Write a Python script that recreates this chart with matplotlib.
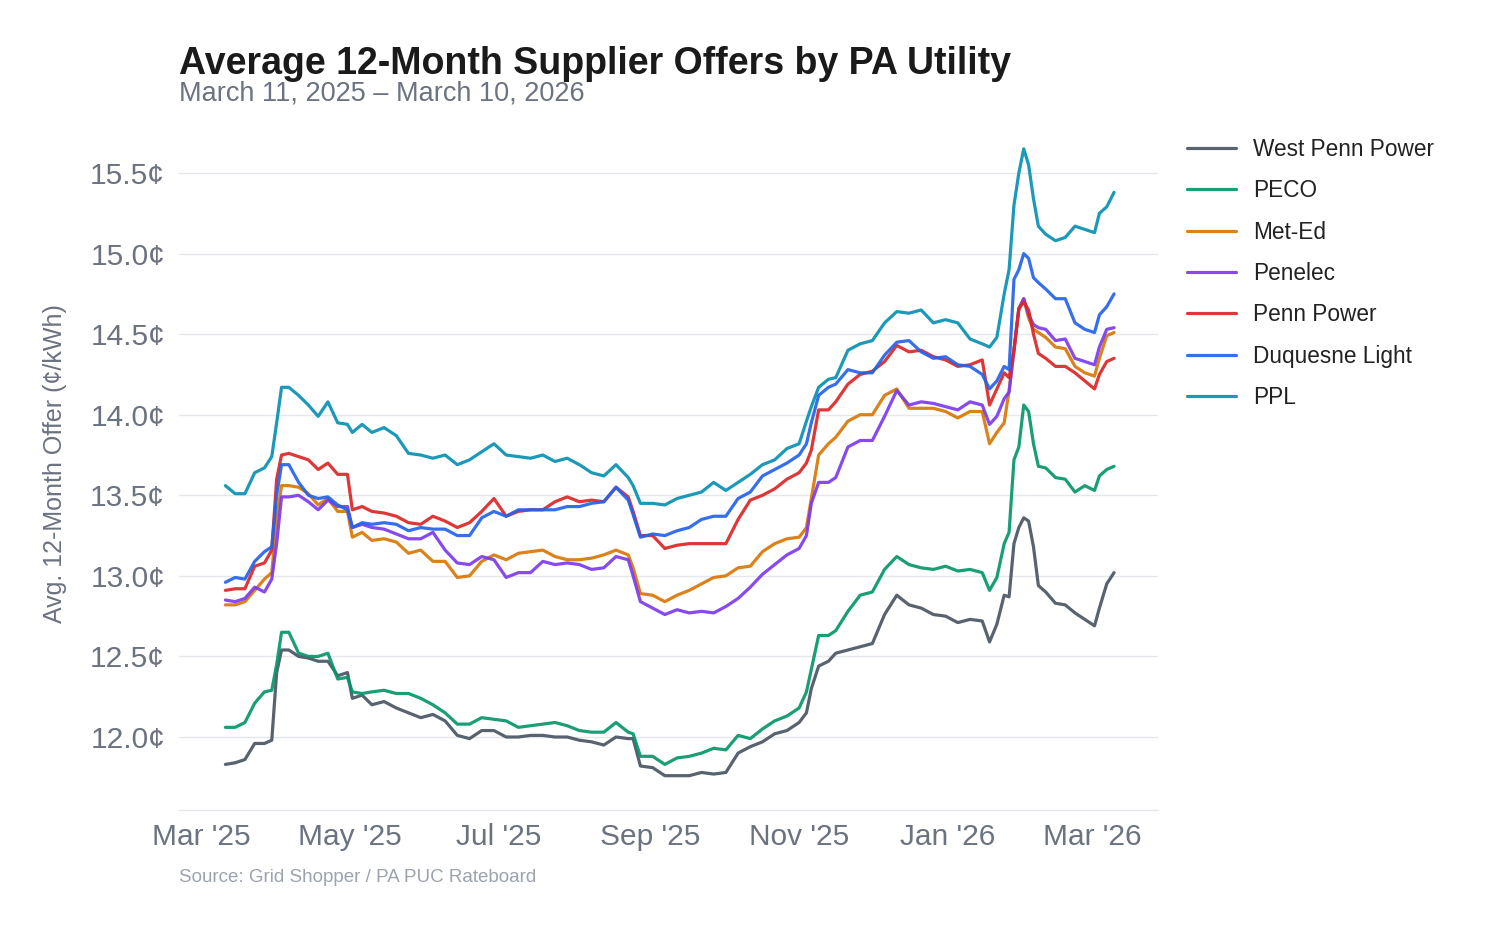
import numpy as np
import pandas as pd
import matplotlib
matplotlib.use("Agg")
import matplotlib.pyplot as plt
import matplotlib.dates as mdates
from matplotlib.ticker import FuncFormatter, MultipleLocator

plt.rcParams['font.family'] = ['Liberation Sans', 'DejaVu Sans']

# ---- data ----
start_date = "2025-03-11"
day_offsets = [0, 4, 8, 12, 16, 19, 21, 23, 26, 30, 34, 38, 42, 46, 50, 52, 56, 60, 65, 70,
               75, 80, 85, 90, 95, 100, 105, 110, 115, 120, 125, 130, 135, 140, 145, 150, 155, 160, 165, 167,
               170, 175, 180, 185, 190, 195, 200, 205, 210, 215, 220, 225, 230, 235, 238, 240, 243, 247, 250, 255,
               260, 265, 270, 275, 280, 285, 290, 295, 300, 305, 310, 313, 316, 319, 321, 323, 325, 327, 329, 331,
               333, 336, 340, 344, 348, 352, 356, 358, 361, 364]

west_penn_power = [11.83, 11.84, 11.86, 11.96, 11.96, 11.98, 12.40, 12.54, 12.54, 12.50, 12.49, 12.47, 12.47, 12.38, 12.40, 12.24, 12.26, 12.20, 12.22, 12.18,
                   12.15, 12.12, 12.14, 12.10, 12.01, 11.99, 12.04, 12.04, 12.00, 12.00, 12.01, 12.01, 12.00, 12.00, 11.98, 11.97, 11.95, 12.00, 11.99, 11.99,
                   11.82, 11.81, 11.76, 11.76, 11.76, 11.78, 11.77, 11.78, 11.90, 11.94, 11.97, 12.02, 12.04, 12.09, 12.15, 12.30, 12.44, 12.47, 12.52, 12.54,
                   12.56, 12.58, 12.76, 12.88, 12.82, 12.80, 12.76, 12.75, 12.71, 12.73, 12.72, 12.59, 12.70, 12.88, 12.87, 13.20, 13.30, 13.36, 13.34, 13.18,
                   12.94, 12.90, 12.83, 12.82, 12.77, 12.73, 12.69, 12.80, 12.95, 13.02]

peco = [12.06, 12.06, 12.09, 12.21, 12.28, 12.29, 12.45, 12.65, 12.65, 12.52, 12.50, 12.50, 12.52, 12.36, 12.37, 12.28, 12.27, 12.28, 12.29, 12.27,
        12.27, 12.24, 12.20, 12.15, 12.08, 12.08, 12.12, 12.11, 12.10, 12.06, 12.07, 12.08, 12.09, 12.07, 12.04, 12.03, 12.03, 12.09, 12.03, 12.02,
        11.88, 11.88, 11.83, 11.87, 11.88, 11.90, 11.93, 11.92, 12.01, 11.99, 12.05, 12.10, 12.13, 12.18, 12.28, 12.42, 12.63, 12.63, 12.66, 12.78,
        12.88, 12.90, 13.04, 13.12, 13.07, 13.05, 13.04, 13.06, 13.03, 13.04, 13.02, 12.91, 12.99, 13.20, 13.27, 13.72, 13.80, 14.06, 14.02, 13.82,
        13.68, 13.67, 13.61, 13.60, 13.52, 13.56, 13.53, 13.62, 13.66, 13.68]

met_ed = [12.82, 12.82, 12.84, 12.91, 12.98, 13.02, 13.35, 13.56, 13.56, 13.55, 13.51, 13.44, 13.48, 13.40, 13.40, 13.24, 13.27, 13.22, 13.23, 13.21,
          13.14, 13.16, 13.09, 13.09, 12.99, 13.00, 13.09, 13.13, 13.10, 13.14, 13.15, 13.16, 13.12, 13.10, 13.10, 13.11, 13.13, 13.16, 13.13, 13.05,
          12.89, 12.88, 12.84, 12.88, 12.91, 12.95, 12.99, 13.00, 13.05, 13.06, 13.15, 13.20, 13.23, 13.24, 13.30, 13.48, 13.75, 13.82, 13.86, 13.96,
          14.00, 14.00, 14.12, 14.16, 14.04, 14.04, 14.04, 14.02, 13.98, 14.02, 14.02, 13.82, 13.89, 13.95, 14.15, 14.40, 14.65, 14.72, 14.60, 14.53,
          14.51, 14.48, 14.42, 14.41, 14.30, 14.26, 14.24, 14.35, 14.49, 14.51]

penelec = [12.85, 12.84, 12.86, 12.93, 12.90, 12.98, 13.20, 13.49, 13.49, 13.50, 13.46, 13.41, 13.47, 13.43, 13.43, 13.30, 13.32, 13.30, 13.29, 13.26,
           13.23, 13.23, 13.27, 13.16, 13.08, 13.07, 13.12, 13.10, 12.99, 13.02, 13.02, 13.09, 13.07, 13.08, 13.07, 13.04, 13.05, 13.12, 13.10, 13.00,
           12.84, 12.80, 12.76, 12.79, 12.77, 12.78, 12.77, 12.81, 12.86, 12.93, 13.01, 13.07, 13.13, 13.17, 13.25, 13.45, 13.58, 13.58, 13.61, 13.80,
           13.84, 13.84, 13.99, 14.15, 14.06, 14.08, 14.07, 14.05, 14.03, 14.08, 14.06, 13.94, 13.99, 14.10, 14.14, 14.40, 14.66, 14.72, 14.62, 14.56,
           14.54, 14.53, 14.46, 14.47, 14.35, 14.33, 14.31, 14.42, 14.53, 14.54]

penn_power = [12.91, 12.92, 12.92, 13.06, 13.08, 13.16, 13.60, 13.75, 13.76, 13.74, 13.72, 13.66, 13.70, 13.63, 13.63, 13.41, 13.43, 13.40, 13.39, 13.37,
              13.33, 13.32, 13.37, 13.34, 13.30, 13.33, 13.40, 13.48, 13.37, 13.40, 13.41, 13.41, 13.46, 13.49, 13.46, 13.47, 13.46, 13.55, 13.49, 13.40,
              13.25, 13.25, 13.17, 13.19, 13.20, 13.20, 13.20, 13.20, 13.35, 13.47, 13.50, 13.54, 13.60, 13.64, 13.70, 13.78, 14.03, 14.03, 14.08, 14.19,
              14.25, 14.27, 14.33, 14.43, 14.39, 14.40, 14.36, 14.34, 14.30, 14.31, 14.34, 14.06, 14.16, 14.26, 14.23, 14.40, 14.66, 14.70, 14.65, 14.50,
              14.38, 14.35, 14.30, 14.30, 14.26, 14.21, 14.16, 14.25, 14.33, 14.35]

duquesne_light = [12.96, 12.99, 12.98, 13.09, 13.15, 13.18, 13.50, 13.69, 13.69, 13.58, 13.50, 13.48, 13.49, 13.44, 13.41, 13.30, 13.33, 13.32, 13.33, 13.32,
                  13.28, 13.30, 13.29, 13.29, 13.25, 13.25, 13.36, 13.40, 13.37, 13.41, 13.41, 13.41, 13.41, 13.43, 13.43, 13.45, 13.46, 13.55, 13.47, 13.38,
                  13.24, 13.26, 13.25, 13.28, 13.30, 13.35, 13.37, 13.37, 13.48, 13.52, 13.62, 13.66, 13.70, 13.75, 13.82, 13.95, 14.12, 14.17, 14.19, 14.28,
                  14.26, 14.26, 14.37, 14.45, 14.46, 14.39, 14.35, 14.36, 14.31, 14.30, 14.25, 14.16, 14.21, 14.30, 14.28, 14.84, 14.90, 15.00, 14.97, 14.85,
                  14.82, 14.78, 14.72, 14.72, 14.57, 14.53, 14.51, 14.62, 14.67, 14.75]

ppl = [13.56, 13.51, 13.51, 13.64, 13.67, 13.74, 13.95, 14.17, 14.17, 14.12, 14.06, 13.99, 14.08, 13.95, 13.94, 13.89, 13.94, 13.89, 13.92, 13.87,
       13.76, 13.75, 13.73, 13.75, 13.69, 13.72, 13.77, 13.82, 13.75, 13.74, 13.73, 13.75, 13.71, 13.73, 13.69, 13.64, 13.62, 13.69, 13.61, 13.56,
       13.45, 13.45, 13.44, 13.48, 13.50, 13.52, 13.58, 13.53, 13.58, 13.63, 13.69, 13.72, 13.79, 13.82, 13.96, 14.05, 14.17, 14.22, 14.23, 14.40,
       14.44, 14.46, 14.57, 14.64, 14.63, 14.65, 14.57, 14.59, 14.57, 14.47, 14.44, 14.42, 14.48, 14.75, 14.90, 15.30, 15.50, 15.65, 15.55, 15.34,
       15.17, 15.12, 15.08, 15.10, 15.17, 15.15, 15.13, 15.25, 15.29, 15.38]

series_names = ["West Penn Power", "PECO", "Met-Ed", "Penelec", "Penn Power", "Duquesne Light", "PPL"]
series_values = [west_penn_power, peco, met_ed, penelec, penn_power, duquesne_light, ppl]
series_colors = ["#4b5563", "#059669", "#d97706", "#7c3aed", "#dc2626", "#2563eb", "#0891b2"]

x_tick_dates = ["2025-03-01", "2025-05-01", "2025-07-01", "2025-09-01", "2025-11-01", "2026-01-01", "2026-03-01"]
x_tick_labels = ["Mar '25", "May '25", "Jul '25", "Sep '25", "Nov '25", "Jan '26", "Mar '26"]

title = "Average 12-Month Supplier Offers by PA Utility"
subtitle = "March 11, 2025 \u2013 March 10, 2026"
y_label = "Avg. 12-Month Offer (\u00a2/kWh)"
source = "Source: Grid Shopper / PA PUC Rateboard"

# ---- figure ----
W, H = 1489, 931
fig = plt.figure(figsize=(W / 100, H / 100), dpi=100)
fig.patch.set_facecolor("white")

ax_left, ax_right, ax_top, ax_bottom = 179, 1158, 115, 810
ax = fig.add_axes([ax_left / W, 1 - ax_bottom / H, (ax_right - ax_left) / W, (ax_bottom - ax_top) / H])

dates = pd.Timestamp(start_date) + pd.to_timedelta(day_offsets, unit="D")

for name, vals, col in zip(series_names, series_values, series_colors):
    ax.plot(dates, vals, color=col, lw=2.3, alpha=0.92, label=name,
            solid_joinstyle="round", solid_capstyle="round")

ax.set_xlim(pd.Timestamp("2025-02-20"), pd.Timestamp("2026-03-28"))
ax.set_ylim(11.547, 15.86)

ax.yaxis.set_major_locator(MultipleLocator(0.5))
ax.yaxis.set_major_formatter(FuncFormatter(lambda v, p: f"{v:.1f}\u00a2"))
ax.set_xticks(pd.to_datetime(x_tick_dates))
ax.set_xticklabels(x_tick_labels)

ax.grid(axis="y", color="#e5e7eb", lw=1.0)
ax.set_axisbelow(True)
for s in ["top", "right", "left"]:
    ax.spines[s].set_visible(False)
ax.spines["bottom"].set_color("#e5e7eb")
ax.spines["bottom"].set_linewidth(1.0)

ax.tick_params(axis="both", length=0, labelsize=21.5, labelcolor="#6b7280")
ax.tick_params(axis="y", pad=10)
ax.tick_params(axis="x", pad=9.6)

fig.text(55 / W, 1 - 464 / H, y_label, rotation=90, ha="center", va="center",
         fontsize=18, color="#6b7280")

fig.text(ax_left / W, 1 - 74 / H, title, ha="left", va="baseline",
         fontsize=27.0, fontweight="bold", color="#1a1a1a")
fig.text(ax_left / W, 1 - 101 / H, subtitle, ha="left", va="baseline",
         fontsize=19.5, color="#6b7280")
fig.text(ax_left / W, 1 - 882 / H, source, ha="left", va="baseline",
         fontsize=13.5, color="#9ca3af")

leg = ax.legend(loc="upper left", bbox_to_anchor=(1187 / W, 1 - 138 / H), bbox_transform=fig.transFigure,
                frameon=False, fontsize=16.3, handlelength=2.16, handletextpad=0.75,
                labelspacing=0.81, borderpad=0, borderaxespad=0)
for t in leg.get_texts():
    t.set_color("#222222")

fig.savefig("out.png", dpi=100, facecolor="white")
